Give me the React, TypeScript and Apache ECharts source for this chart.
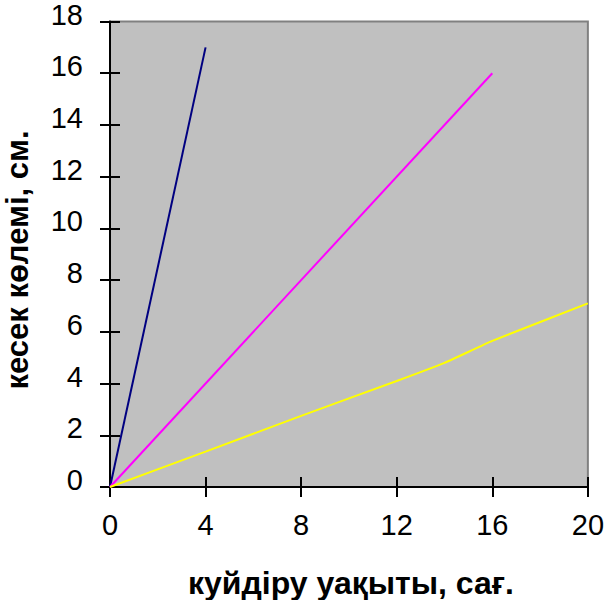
import React, { useEffect, useRef } from "react";
import * as echarts from "echarts";

const xTicks = [0, 4, 8, 12, 16, 20];
const yTicks = [0, 2, 4, 6, 8, 10, 12, 14, 16, 18];
const navySeries: [number, number][] = [[0, 0], [4, 17]];
const magentaSeries: [number, number][] = [[0, 0], [16, 16]];
const yellowSeries: [number, number][] = [[0, 0], [4, 1.37], [8, 2.75], [12, 4.1], [14, 4.8], [16, 5.65], [20, 7.1]];
const xTitle = "куйдіру уақыты, сағ.";
const yTitle = "кесек көлемі, см.";

const FONT = "'Liberation Sans', Arial, sans-serif";

export default function App() {
  const ref = useRef<HTMLDivElement>(null);
  useEffect(() => {
    if (!ref.current) return;
    const chart = echarts.init(ref.current, null, { renderer: "svg" });
    const xMin = xTicks[0], xMax = xTicks[xTicks.length - 1], xInt = xTicks[1] - xTicks[0];
    const yMin = yTicks[0], yMax = yTicks[yTicks.length - 1], yInt = yTicks[1] - yTicks[0];
    const tickStyle = { color: "#000", width: 2 };
    chart.setOption({
      animation: false,
      backgroundColor: "#fff",
      grid: {
        left: 110, top: 19, right: 17, bottom: 113,
        show: true, backgroundColor: "#c0c0c0", borderColor: "#808080", borderWidth: 2,
      },
      xAxis: [
        {
          type: "value", min: xMin, max: xMax, interval: xInt, position: "bottom",
          axisLine: { show: true, onZero: false, lineStyle: { color: "#000", width: 2 } },
          axisTick: { show: true, inside: false, length: 10, lineStyle: tickStyle },
          axisLabel: { show: true, margin: 23, fontSize: 29, color: "#000", fontFamily: FONT },
          splitLine: { show: false },
        },
        {
          type: "value", min: xMin, max: xMax, interval: xInt, position: "bottom",
          axisLine: { show: false },
          axisTick: { show: true, inside: true, length: 10, lineStyle: tickStyle },
          axisLabel: { show: false },
          splitLine: { show: false },
        },
      ],
      yAxis: [
        {
          type: "value", min: yMin, max: yMax, interval: yInt, position: "left",
          axisLine: { show: true, onZero: false, lineStyle: { color: "#000", width: 2 } },
          axisTick: { show: true, inside: false, length: 10, lineStyle: tickStyle },
          axisLabel: {
            show: true, margin: 27, fontSize: 29, color: "#000", fontFamily: FONT,
            verticalAlign: "bottom", lineHeight: 14,
          },
          splitLine: { show: false },
        },
        {
          type: "value", min: yMin, max: yMax, interval: yInt, position: "left",
          axisLine: { show: false },
          axisTick: { show: true, inside: true, length: 10, lineStyle: tickStyle },
          axisLabel: { show: false },
          splitLine: { show: false },
        },
      ],
      series: [
        { type: "line", data: navySeries, showSymbol: false, lineStyle: { color: "#000080", width: 2 }, z: 3 },
        { type: "line", data: magentaSeries, showSymbol: false, lineStyle: { color: "#ff00ff", width: 2 }, z: 3 },
        { type: "line", data: yellowSeries, showSymbol: false, smooth: 0.1, lineStyle: { color: "#ffff00", width: 2 }, z: 3 },
      ],
      graphic: [
        {
          type: "text", x: 351, y: 583,
          style: { text: xTitle, font: `bold 32px ${FONT}`, fill: "#000", align: "center", verticalAlign: "middle" },
        },
        {
          type: "text", x: 17, y: 260, rotation: Math.PI / 2,
          style: { text: yTitle, font: `bold 31px ${FONT}`, fill: "#000", align: "center", verticalAlign: "middle" },
        },
      ],
    });
    return () => chart.dispose();
  }, []);
  return <div ref={ref} style={{ width: 607, height: 600, position: "absolute", left: 0, top: 0 }} />;
}
